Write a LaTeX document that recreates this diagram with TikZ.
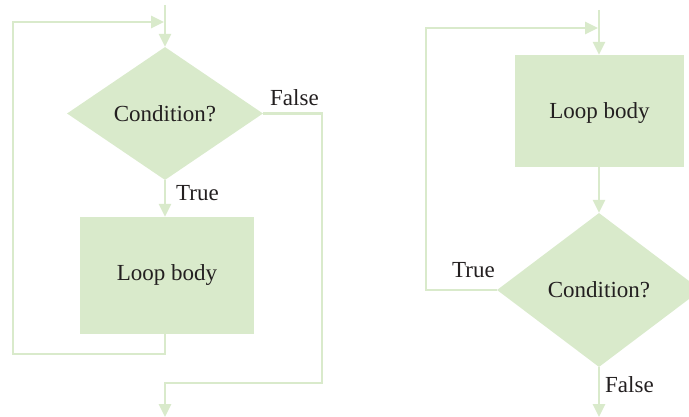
\documentclass[tikz,border=0pt]{standalone}
\usepackage{fontspec}
\setmainfont{Liberation Serif}
\usetikzlibrary{shapes.geometric,arrows.meta,calc}
\definecolor{fillgreen}{RGB}{217,234,203}
\definecolor{txt}{RGB}{35,31,32}
\begin{document}
\begin{tikzpicture}[x=1pt,y=-1pt,
  every node/.style={text=txt,font=\fontsize{23}{27}\selectfont},
  decision/.style={diamond,fill=fillgreen,inner sep=0pt,aspect=1.5},
  process/.style={rectangle,fill=fillgreen,inner sep=0pt},
  flow/.style={draw=fillgreen,line width=2.6pt},
  arr/.style={flow,-{Triangle[length=13pt,width=12pt]}},
  lbl/.style={anchor=base west,inner sep=0pt}]
\useasboundingbox (0,0) rectangle (689,417);
\clip (0,0) rectangle (689,417);
% ---------- left: while loop ----------
\node[decision,minimum width=196pt,minimum height=133pt] (cond1) at (165,113.5) {Condition?};
\node[process,minimum width=174pt,minimum height=117pt] (body1) at (167,275.5) {Loop body};
\coordinate (top1) at (165,5);
\coordinate (back1a) at (165,354);
\coordinate (back1b) at (13,354);
\coordinate (back1c) at (13,22);
\coordinate (back1d) at (164,22);
\coordinate (exit1a) at (322,113.5);
\coordinate (exit1b) at (322,383);
\coordinate (exit1c) at (165,383);
\coordinate (exit1d) at (165,417);
\draw[arr] (top1) -- (cond1.north);
\draw[arr] (cond1.south) -- (cond1.south |- body1.north);
\draw[arr] (cond1.south |- body1.south) -- (back1a) -- (back1b) -- (back1c) -- (back1d);
\draw[arr] (cond1.east) -- (exit1a) -- (exit1b) -- (exit1c) -- (exit1d);
\node[lbl] (false1) at (270,106) {False};
\node[lbl] (true1) at (176,201) {True};
% ---------- right: do-while loop ----------
\node[process,minimum width=169pt,minimum height=112pt,text depth=0pt] (body2) at (599.5,111) {Loop body};
\node[decision,minimum width=204pt,minimum height=154pt] (cond2) at (599,290) {Condition?};
\coordinate (top2) at (599,10);
\coordinate (back2a) at (426,290);
\coordinate (back2b) at (426,28);
\coordinate (back2c) at (598,28);
\coordinate (exit2) at (599,417);
\draw[arr] (top2) -- (top2 |- body2.north);
\draw[arr] (top2 |- body2.south) -- (cond2.north);
\draw[arr] (cond2.west) -- (back2a) -- (back2b) -- (back2c);
\draw[arr] (cond2.south) -- (exit2);
\node[lbl] (true2) at (452,278) {True};
\node[lbl] (false2) at (605,392) {False};
\end{tikzpicture}
\end{document}
